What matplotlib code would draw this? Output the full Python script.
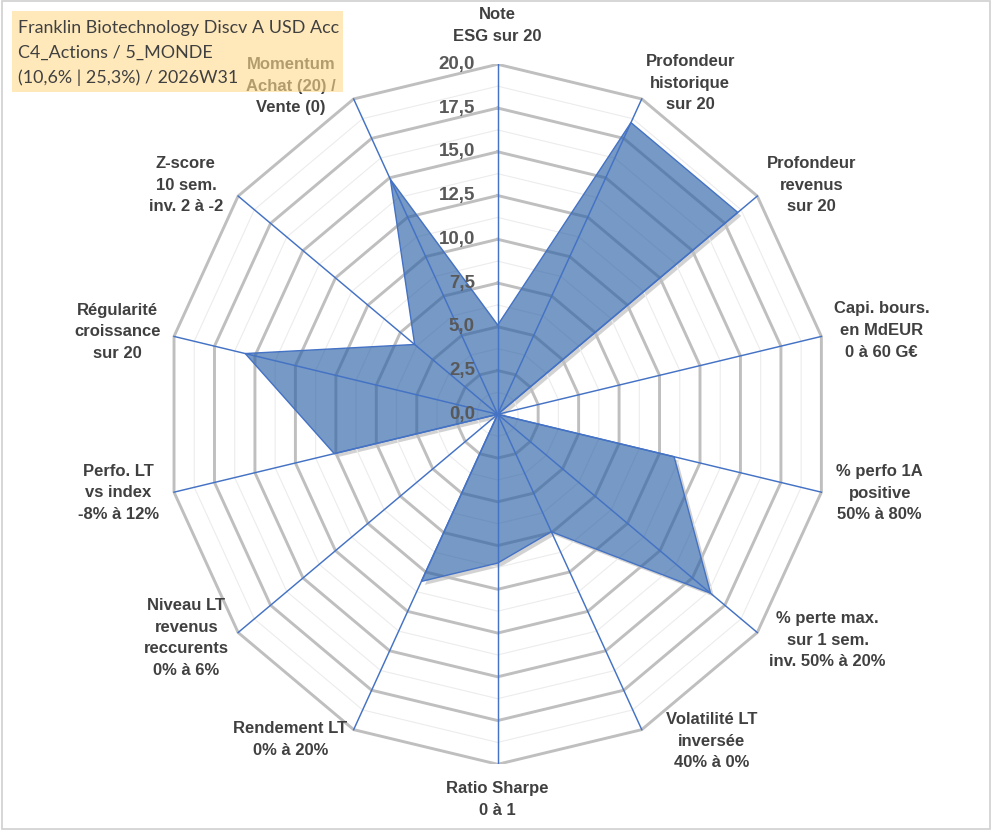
import numpy as np
import matplotlib
matplotlib.use("Agg")
import matplotlib.pyplot as plt
from matplotlib.patches import Polygon, Rectangle
import matplotlib.patheffects as pe

# ---------------- data ----------------
categories = [
    "Note\nESG sur 20",
    "Profondeur\nhistorique\nsur 20",
    "Profondeur\nrevenus\nsur 20",
    "Capi. bours.\nen MdEUR\n0 à 60 G€",
    "% perfo 1A\npositive\n50% à 80%",
    "% perte max.\nsur 1 sem.\ninv. 50% à 20%",
    "Volatilité LT\ninversée\n40% à 0%",
    "Ratio Sharpe\n0 à 1",
    "Rendement LT\n0% à 20%",
    "Niveau LT\nrevenus\nreccurents\n0% à 6%",
    "Perfo. LT\nvs index\n-8% à 12%",
    "Régularité\ncroissance\nsur 20",
    "Z-score\n10 sem.\ninv. 2 à -2",
    "Momentum\nAchat (20) /\nVente (0)",
]
values = [5.1, 18.5, 18.5, 0.0, 10.9, 16.4, 7.45, 8.5, 10.6, 0.0, 10.1, 15.6, 6.4, 14.9]
r_ticks = [0.0, 2.5, 5.0, 7.5, 10.0, 12.5, 15.0, 17.5, 20.0]
tick_labels = ["0,0", "2,5", "5,0", "7,5", "10,0", "12,5", "15,0", "17,5", "20,0"]
title_lines = ["Franklin Biotechnology Discv A USD Acc",
               "C4_Actions / 5_MONDE",
               "(10,6% | 25,3%) / 2026W31"]

# ---------------- layout (not data) ----------------
# label centre positions: (radius, angle in degrees clockwise from top)
label_layout = [(22.2, 0), (22.2, 31.5), (23.0, 55.3), (23.6, 78.3), (23.45, 101.1),
                (23.7, 123.0), (22.7, 145.4), (22.0, 180), (22.4, 213.9), (22.7, 235.7),
                (23.3, 258.9), (23.4, 281.6), (22.9, 304.9), (22.5, 326.4)]

W, H = 991, 830
fig = plt.figure(figsize=(W / 100, H / 100), dpi=100)
fig.patch.set_facecolor("white")

cx, cy = 497.7, 414.3          # centre in pixels (from top)
sx, sy = 16.6, 17.5            # px per unit horizontally / vertically
ax = fig.add_axes([(cx - 20 * sx) / W, (H - cy - 20 * sy) / H, 40 * sx / W, 40 * sy / H])
ax.set_xlim(-20, 20)
ax.set_ylim(-20, 20)
ax.axis("off")

n = len(categories)
theta = np.arange(n) * 2 * np.pi / n


def pts(r):
    r = np.asarray(r, dtype=float) * np.ones(n)
    return np.column_stack([r * np.sin(theta), r * np.cos(theta)])


# white backing polygon with soft shadow
shadow_poly = Polygon(pts(values), closed=True, facecolor="white", edgecolor="none", zorder=1,
                      path_effects=[pe.SimplePatchShadow(offset=(2.5, -2.5), shadow_rgbFace="#7f7f7f", alpha=0.35),
                                    pe.Normal()])
ax.add_patch(shadow_poly)

# minor and major rings
for r in np.arange(1.25, 20.01, 1.25):
    p = pts(r)
    p = np.vstack([p, p[:1]])
    major = abs((r / 2.5) - round(r / 2.5)) < 1e-6
    if major:
        ax.plot(p[:, 0], p[:, 1], color="#BFBFBF", lw=2.1, zorder=2, solid_joinstyle="miter")
    else:
        ax.plot(p[:, 0], p[:, 1], color="#ECECEC", lw=0.8, zorder=2)

# series fill
poly = Polygon(pts(values), closed=True, facecolor="#2D62A6", alpha=0.65, edgecolor="none", zorder=3)
ax.add_patch(poly)
edge = Polygon(pts(values), closed=True, facecolor="none", edgecolor="#4472C4", lw=1.0, zorder=5)
ax.add_patch(edge)

# spokes
outer = pts(20)
for (x, y) in outer:
    ax.plot([0, x], [0, y], color="#4472C4", lw=1.05, zorder=4)

# radial tick labels
for r, t in zip(r_ticks, tick_labels):
    ax.text(-1.37, r, t, ha="right", va="center", fontsize=13.5, fontweight="bold",
            color="#595959", family="Liberation Sans", zorder=6)

# category labels
for lab, (lr, la) in zip(categories, label_layout):
    a = np.deg2rad(la)
    ax.text(lr * np.sin(a), lr * np.cos(a), lab, ha="center", va="center", multialignment="center",
            fontsize=12, fontweight="bold", color="#404040", family="Liberation Sans",
            linespacing=1.55, zorder=6)

# title box (semi-transparent, over the labels)
fig.patches.append(Rectangle((12 / W, 1 - 92 / H), (343 - 12) / W, (92 - 11.5) / H,
                             transform=fig.transFigure, facecolor="#FFDB8E", alpha=0.6,
                             edgecolor="none", zorder=10))

# title text, fitted to the reference width
renderer = fig.canvas.get_renderer()
probe = fig.text(0, 0, title_lines[0], fontsize=14, family="Lato")
wpx = probe.get_window_extent(renderer).width
probe.remove()
fs = 14 * 321 / wpx
for i, line in enumerate(title_lines):
    fig.text(18 / W, 1 - (33.5 + 24.5 * i) / H, line, ha="left", va="baseline", fontsize=fs,
             family="Lato", color="#404040", zorder=11)

# chart border
fig.patches.append(Rectangle((1.5 / W, 1.5 / H), (W - 3) / W, (H - 3) / H, transform=fig.transFigure,
                             facecolor="none", edgecolor="#D0D0D0", lw=1.2, zorder=12))

fig.savefig("out.png", dpi=100)
